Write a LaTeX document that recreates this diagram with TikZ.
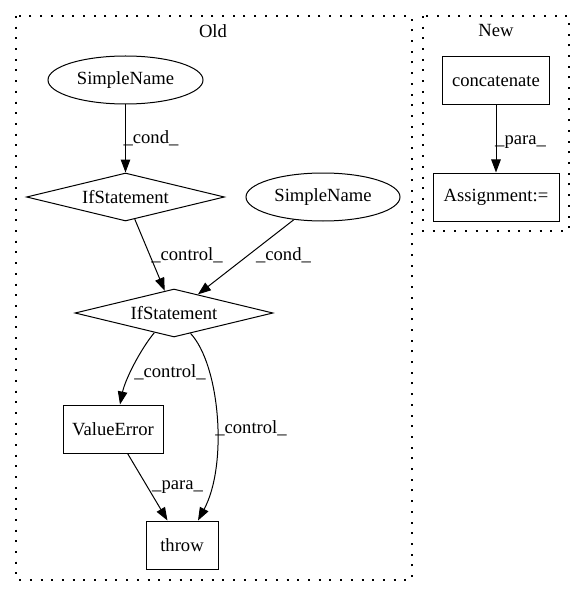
\documentclass[tikz,border=0pt]{standalone}
\usepackage{fontspec}
\setmainfont{Liberation Serif}
\usetikzlibrary{shapes.geometric,arrows.meta}
\tikzset{
  every node/.style={font=\fontsize{18.6}{22}\selectfont},
  ell/.style={draw,ellipse,line width=1pt,minimum width=155pt,minimum height=48pt,inner sep=0pt},
  dia/.style={draw,diamond,line width=1pt,minimum width=198pt,minimum height=48pt,aspect=4.125,inner sep=0pt},
  box/.style={draw,rectangle,line width=1pt,minimum height=48pt,inner sep=0pt},
  edge/.style={line width=1pt,-{Triangle[length=13pt,width=9.5pt]}},
  lbl/.style={inner sep=0pt},
  cluster/.style={line width=1.3pt,dash pattern=on 2pt off 8.7pt}
}
\begin{document}
\begin{tikzpicture}[x=1pt,y=-1pt]
\useasboundingbox (0,0) rectangle (585,596);
% clusters
\draw[cluster] (16,16) rectangle (412,580);
\draw[cluster] (423,16) rectangle (569,231);
\node[lbl] (oldlbl) at (213,31) {Old};
\node[lbl] (newlbl) at (496,31) {New};
% nodes
\node[ell] (sn1) at (125.5,80) {SimpleName};
\node[dia] (if1) at (125.5,197) {IfStatement};
\node[ell,minimum width=154pt] (sn2) at (323,197) {SimpleName};
\node[dia] (if2) at (174,313) {IfStatement};
\node[box,minimum width=100pt] (ve) at (113,429) {ValueError};
\node[box,minimum width=72pt] (th) at (182,545) {throw};
\node[box,minimum width=107pt] (cc) at (496,81) {concatenate};
\node[box,minimum width=126pt] (as) at (496,197) {Assignment:=};
% edges
\draw[edge] (sn1) -- (if1);
\draw[edge] (if1) -- (if2);
\draw[edge] (sn2) -- (if2);
\draw[edge] (if2.225) .. controls (140,350) and (125,380) .. ([xshift=7pt]ve.north);
\draw[edge] (if2.309) .. controls (220,365) and (228,465) .. ([xshift=16pt]th.north);
\draw[edge] (ve) -- (th);
\draw[edge] (cc) -- (as);
% edge labels
\node[lbl] (l1) at (151,138) {\_cond\_};
\node[lbl] (l2) at (187,255) {\_control\_};
\node[lbl] (l3) at (283.5,255) {\_cond\_};
\node[lbl] (l4) at (170,372) {\_control\_};
\node[lbl] (l5) at (251,428) {\_control\_};
\node[lbl] (l6) at (177.5,487) {\_para\_};
\node[lbl] (l7) at (520.5,142) {\_para\_};
\end{tikzpicture}
\end{document}
